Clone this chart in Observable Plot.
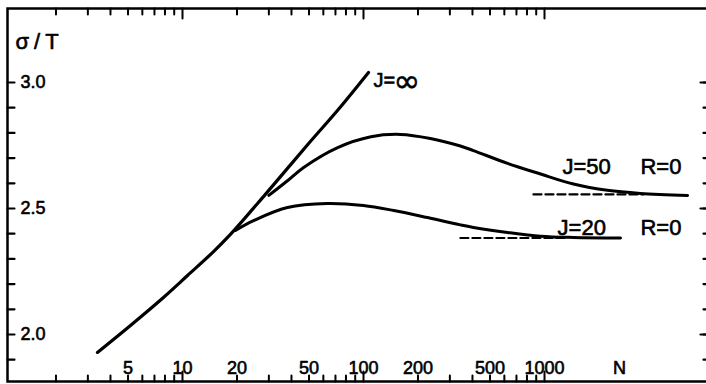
<!DOCTYPE html>
<html><head><meta charset="utf-8">
<script src="https://cdn.jsdelivr.net/npm/d3@7"></script>
<script src="https://cdn.jsdelivr.net/npm/@observablehq/plot@0.6"></script>
<style>
html,body{margin:0;padding:0;background:#fff;}
#chart svg{display:block}
</style></head><body><div id="chart"></div>
<script>
// J = infinity curve
const jInfN = [3.39, 5.16, 7.85, 10.66, 14.84, 18.4, 28.7, 50.3, 71.8, 106.6];
const jInfS = [1.929, 2.036, 2.147, 2.234, 2.329, 2.397, 2.556, 2.762, 2.889, 3.04];
// J = 50, R = 0
const j50N = [30, 38, 46.7, 72, 110, 160, 234, 343, 405, 625, 951, 1445, 2228, 3390, 6170];
const j50S = [2.552, 2.61, 2.663, 2.742, 2.785, 2.794, 2.778, 2.748, 2.73, 2.679, 2.637, 2.597, 2.572, 2.56, 2.552];
// J = 20, R = 0
const j20N = [19.6, 24.7, 38, 63, 100, 147, 226, 343, 405, 625, 951, 1445, 2630];
const j20S = [2.413, 2.452, 2.504, 2.52, 2.512, 2.492, 2.464, 2.435, 2.425, 2.405, 2.39, 2.385, 2.383];
// dashed asymptotes
const dash50N = [869, 3520];
const dash50S = [2.556, 2.556];
const dash20N = [343, 1340];
const dash20S = [2.383, 2.383];
// curve labels
const labelText = ["J=50", "R=0", "J=20", "R=0"];
const labelN = [1256, 3388, 1181, 3388];
const labelS = [2.663, 2.663, 2.421, 2.421];
const infLabelN = [113.5];
const infLabelS = [3.008];
// ticks
const xTickLabels = [5, 10, 20, 50, 100, 200, 500, 1000];
const xMajorTicks = [10, 100, 1000];
const xMinorTicks = [2,3,4,5,6,7,8,9,20,30,40,50,60,70,80,90,200,300,400,500,600,700,800,900];
const yTickLabels = [2.0, 2.5, 3.0];
const yTicks = [1.9, 2.0, 2.1, 2.2, 2.3, 2.4, 2.5, 2.6, 2.7, 2.8, 2.9, 3.0];

const pts = (N, S) => N.map((n, i) => ({n, s: S[i]}));
const labels = labelText.map((t, i) => ({t, n: labelN[i], s: labelS[i]}));
const infLabel = pts(infLabelN, infLabelS);
const ink = {fill: "black", stroke: "black", strokeWidth: 0.6};

const chart = Plot.plot({
  width: 706,
  height: 384,
  marginLeft: 7,
  marginTop: 8,
  marginRight: 0,
  marginBottom: 3,
  style: {fontFamily: "Liberation Sans", fontSize: "18px", background: "white", color: "black"},
  x: {type: "log", domain: [10, 1000], range: [182, 544], axis: null},
  y: {domain: [2.0, 3.0], range: [334, 82], axis: null},
  marks: [
    Plot.frame({stroke: "black", strokeWidth: 2.5, insetRight: -6}),
    // top ticks
    Plot.vector(xMinorTicks, {x: d => d, frameAnchor: "top", rotate: 180, length: 6, anchor: "start", r: 0, strokeWidth: 2, stroke: "black"}),
    Plot.vector(xMajorTicks, {x: d => d, frameAnchor: "top", rotate: 180, length: 10, anchor: "start", r: 0, strokeWidth: 2, stroke: "black"}),
    // bottom ticks
    Plot.vector(xMinorTicks, {x: d => d, frameAnchor: "bottom", rotate: 0, length: 6, anchor: "start", r: 0, strokeWidth: 2, stroke: "black"}),
    Plot.vector(xMajorTicks, {x: d => d, frameAnchor: "bottom", rotate: 0, length: 10, anchor: "start", r: 0, strokeWidth: 2, stroke: "black"}),
    // left ticks
    Plot.vector(yTicks, {y: d => d, frameAnchor: "left", rotate: 90, length: 7, anchor: "start", r: 0, strokeWidth: 2.2, stroke: "black"}),
    // right ticks
    Plot.vector(yTicks, {y: d => d, frameAnchor: "right", rotate: 270, length: 3, anchor: "start", r: 0, strokeWidth: 2.2, stroke: "black"}),
    Plot.vector(yTickLabels, {y: d => d, frameAnchor: "right", rotate: 270, length: 6, anchor: "start", r: 0, strokeWidth: 2.2, stroke: "black"}),
    // tick labels
    Plot.text(yTickLabels, {y: d => d, text: d => d.toFixed(1), frameAnchor: "left", dx: 13, textAnchor: "start", lineAnchor: "middle", fontSize: 18, ...ink}),
    Plot.text(xTickLabels, {x: d => d, text: d => String(d), frameAnchor: "bottom", dy: -13, lineAnchor: "middle", fontSize: 18, ...ink}),
    Plot.text(["N"], {frameAnchor: "bottom-right", dx: -87, dy: -13, lineAnchor: "middle", textAnchor: "middle", fontSize: 18, ...ink}),
    Plot.text(["σ/T"], {frameAnchor: "top-left", dx: 8, dy: 33, textAnchor: "start", lineAnchor: "middle", fontSize: 22, ...ink}),
    // curves
    Plot.line(pts(jInfN, jInfS), {x: "n", y: "s", stroke: "black", strokeWidth: 3.2, curve: "catmull-rom"}),
    Plot.line(pts(j50N, j50S), {x: "n", y: "s", stroke: "black", strokeWidth: 3, curve: "catmull-rom"}),
    Plot.line(pts(j20N, j20S), {x: "n", y: "s", stroke: "black", strokeWidth: 3, curve: "catmull-rom"}),
    Plot.line(pts(dash50N, dash50S), {x: "n", y: "s", stroke: "black", strokeWidth: 2.2, strokeDasharray: "8,4"}),
    Plot.line(pts(dash20N, dash20S), {x: "n", y: "s", stroke: "black", strokeWidth: 2.2, strokeDasharray: "8,4"}),
    // curve labels
    Plot.text(labels, {x: "n", y: "s", text: "t", textAnchor: "start", lineAnchor: "middle", fontSize: 22, ...ink}),
    Plot.text(infLabel, {x: "n", y: "s", text: () => "J=", textAnchor: "start", lineAnchor: "middle", fontSize: 20, ...ink}),
    Plot.text(infLabel, {x: "n", y: "s", text: () => "∞", dx: 20, dy: 1, textAnchor: "start", lineAnchor: "middle", fontSize: 32, fontFamily: "DejaVu Sans", ...ink})
  ]
});
chart.querySelectorAll("text").forEach(t => {
  if (t.textContent === "σ/T") t.setAttribute("letter-spacing", "5");
});
document.getElementById("chart").appendChild(chart);
</script></body></html>
